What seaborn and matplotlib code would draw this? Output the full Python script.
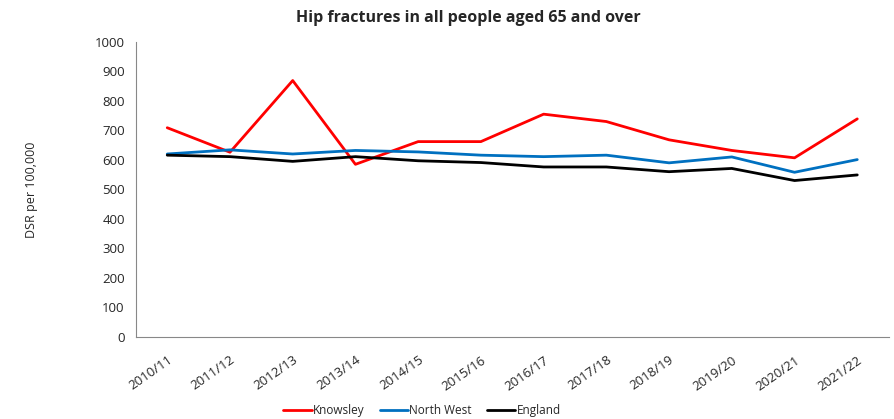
import seaborn as sns
import matplotlib.pyplot as plt
import pandas as pd

# Hip fractures, DSR per 100,000
years = ["2010/11", "2011/12", "2012/13", "2013/14", "2014/15", "2015/16",
         "2016/17", "2017/18", "2018/19", "2019/20", "2020/21", "2021/22"]
knowsley = [709, 626, 869, 585, 662, 662, 755, 730, 668, 632, 607, 739]
north_west = [620, 634, 620, 632, 627, 616, 611, 616, 590, 610, 558, 601]
england = [616, 611, 595, 611, 597, 591, 576, 576, 560, 571, 530, 549]

series = ["Knowsley", "North West", "England"]
colours = ["#FF0000", "#0070C0", "#000000"]

df = pd.DataFrame({
    "idx": list(range(len(years))) * 3,
    "value": knowsley + north_west + england,
    "area": [s for s in series for _ in years],
})

sns.set_style("white")
plt.rcParams["font.family"] = ["Open Sans", "DejaVu Sans"]

fig = plt.figure(figsize=(8.94, 4.19), dpi=100)
ax = fig.add_axes([0.152, 0.196, 0.842, 0.704])

sns.lineplot(data=df, x="idx", y="value", hue="area", hue_order=series,
             palette=colours, linewidth=2, ax=ax, legend=False)

ax.set_ylim(0, 1000)
ax.set_yticks(range(0, 1001, 100))
ax.set_xlim(-0.5, 11.36)
ax.set_xticks(range(len(years)))
ax.set_xticklabels(years, rotation=35, ha="right", rotation_mode="anchor", fontsize=9.5)
ax.set_xticks([i - 0.5 for i in range(len(years) + 1)], minor=True)
ax.tick_params(axis="x", which="major", length=0, pad=12)
ax.tick_params(axis="x", which="minor", length=4, color="#888888", direction="out")
ax.tick_params(axis="y", length=4, color="#888888", direction="out", labelsize=9.5, pad=4)

for s in ["top", "right"]:
    ax.spines[s].set_visible(False)
for s in ["left", "bottom"]:
    ax.spines[s].set_color("#888888")

ax.set_xlabel("")
ax.set_ylabel("DSR per 100,000", fontsize=9)
ax.yaxis.set_label_coords(-0.13, 0.5)
fig.suptitle("Hip fractures in all people aged 65 and over", fontsize=11.5,
             fontweight="bold", x=0.524, y=0.975)

handles = [plt.Line2D([], [], color=c, linewidth=2) for c in colours]
fig.legend(handles, series, loc="lower center", ncol=3, frameon=False,
           fontsize=8.5, handlelength=2.4, handletextpad=0.1, columnspacing=1.3,
           bbox_to_anchor=(0.472, -0.02))

fig.savefig("out.png", dpi=100)
